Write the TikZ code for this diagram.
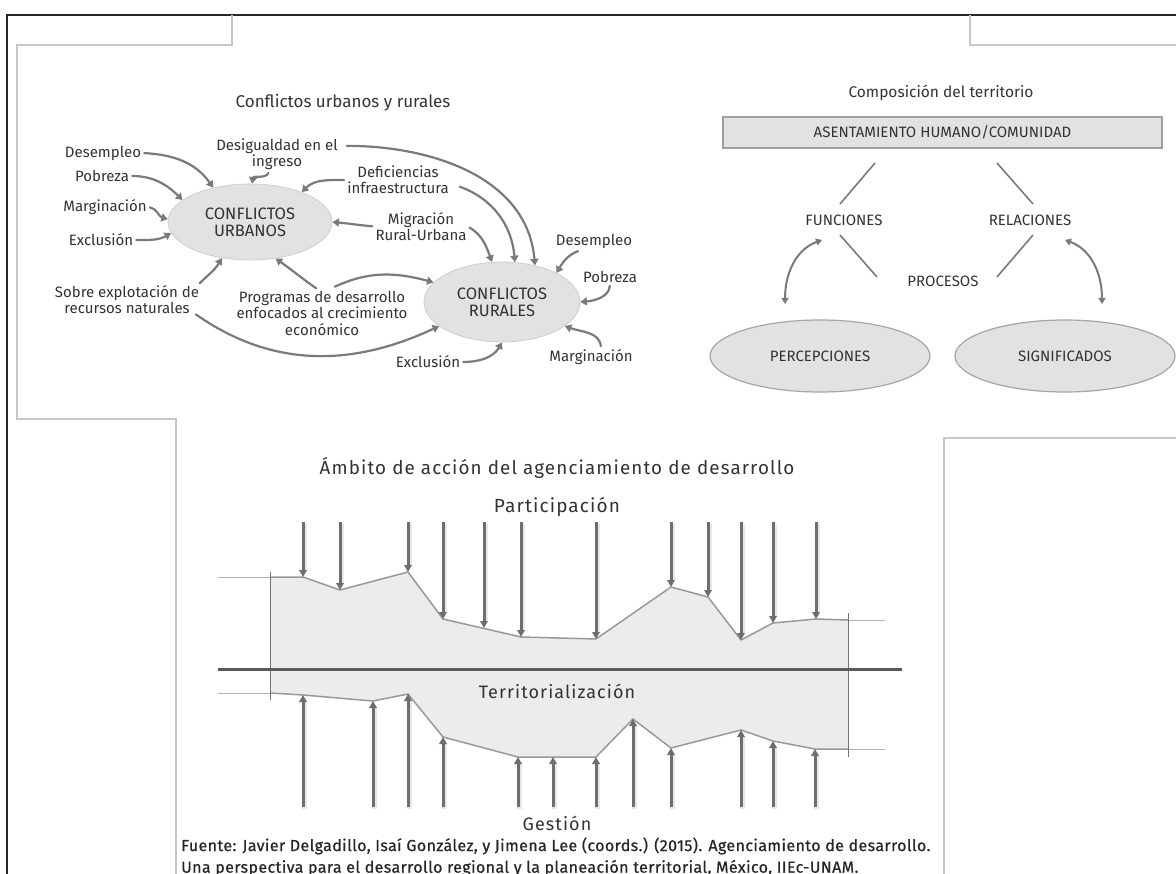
\documentclass[tikz,border=0pt]{standalone}
\usepackage{fontspec}
\setmainfont{Fira Sans}
\newfontfamily\widefont[LetterSpace=6]{Fira Sans}
\newfontfamily\footfont[LetterSpace=2.5,FakeBold=0.6]{Fira Sans}
\usetikzlibrary{arrows.meta,shapes.geometric,calc}
\definecolor{txt}{HTML}{333333}
\definecolor{arr}{HTML}{7A7A7A}
\definecolor{ellfill}{HTML}{E2E2E2}
\definecolor{brd}{HTML}{C8C8C8}
\definecolor{shapefill}{HTML}{ECECEC}
\begin{document}
\begin{tikzpicture}[x=1pt,y=1pt,
  lbl/.style={font=\fontsize{15}{16}\selectfont, text=txt, align=center, inner sep=1pt},
  ttl/.style={font=\fontsize{17}{19}\selectfont, text=txt, inner sep=0pt},
  capl/.style={font=\fontsize{15}{17}\selectfont, text=txt, inner sep=1pt},
  conf/.style={ellipse, fill=ellfill, draw=ellfill!80!gray, line width=0.8pt, inner sep=0pt, align=center,
     font=\fontsize{16.5}{17}\selectfont, text=txt},
  bigell/.style={ellipse, fill=ellfill, draw=gray!70, line width=1.2pt, minimum width=220pt, minimum height=72pt,
     inner sep=0pt, font=\fontsize{15}{17}\selectfont, text=txt},
  carr/.style={draw=arr, line width=2.2pt, line cap=round, -{Triangle[length=6.5pt,width=8pt]}, shorten <=2pt},
  darr/.style={draw=arr, line width=2pt, {Triangle[length=6pt,width=7pt]}-{Triangle[length=6pt,width=7pt]}},
  ln/.style={draw=arr, line width=1.6pt},
  barr/.style={draw=arr!90!black, line width=3pt, -{Triangle[length=7pt,width=7.5pt]}},
  bshadow/.style={draw=black!9, line width=5pt},
  bigtxt/.style={font=\widefont\fontsize{18}{20}\selectfont, text=txt, inner sep=0pt},
  frame/.style={draw=brd, line width=1.3pt},
]
\useasboundingbox (0,0) rectangle (1176,-874);
\fill[white] (0,0) rectangle (1176,-874);

% ---------- page frame ----------
\draw[draw=black!85, line width=2pt] (1176,-15) -- (7,-15) -- (7,-874);
\draw[frame] (232,-15) -- (232,-45) -- (17,-45) -- (17,-419) -- (176,-419) -- (176,-874);
\draw[frame] (970,-15) -- (970,-45) -- (1176,-45);
\draw[frame] (1176,-438) -- (944,-438) -- (944,-874);

% ---------- Conflictos urbanos y rurales ----------
\node[ttl] (t1) at (343,-103) {Conflictos urbanos y rurales};
\node[conf, minimum width=164pt, minimum height=76pt] (urb) at (250,-222) {CONFLICTOS\\URBANOS};
\node[conf, minimum width=156pt, minimum height=80pt] (rur) at (502,-302) {CONFLICTOS\\RURALES};

\node[lbl] (desU) at (103,-153) {Desempleo};
\node[lbl] (pobU) at (102,-176) {Pobreza};
\node[lbl] (marU) at (105,-207) {Marginación};
\node[lbl] (excU) at (101,-240) {Exclusión};
\node[lbl] (sobre) at (127,-300) {Sobre explotación de\\recursos naturales};
\node[lbl] (desig) at (277,-154.5) {Desigualdad en el\\ingreso};
\node[lbl] (defic) at (398,-180) {Deficiencias\\infraestructura};
\node[lbl] (migr) at (421,-226.5) {Migración\\Rural-Urbana};
\node[lbl, font=\fontsize{15}{16.5}\selectfont] (prog) at (322,-313) {Programas de desarrollo\\enfocados al crecimiento\\económico};
\node[lbl] (desR) at (594,-241) {Desempleo};
\node[lbl] (pobR) at (610,-277) {Pobreza};
\node[lbl] (marR) at (591,-357) {Marginación};
\node[lbl] (excR) at (428,-362) {Exclusión};

% arrows to urban
\draw[carr] (desU.east) to[out=-3,in=125] (urb.137);
\draw[carr] (pobU.east) to[out=0,in=135] (urb.162);
\draw[carr] (marU.east) to[out=-10,in=165] (urb.178);
\draw[carr] (excU.east) to[out=0,in=-150] (urb.188);
\draw[carr] ($(desig.south)+(-8,0)$) to[out=-110,in=80] (urb.87);
\draw[carr] (defic.west) to[out=180,in=45] (urb.30);
\draw[carr] (migr.west) to[out=175,in=-5] (urb.0);
\draw[carr] ($(sobre.north east)+(-2,0)$) to[out=45,in=-120] (urb.232);
\draw[carr] ($(prog.north)+(-4,0)$) to[out=145,in=-35] (urb.305);
% arrows to rural
\draw[carr] ($(desig.north east)+(6,-8)$) to[out=0,in=95] (rur.48);
\draw[carr] ($(defic.east)+(8,-6)$) to[out=-20,in=95] (rur.72);
\draw[carr] (migr.east) to[out=-30,in=110] (rur.104);
\draw[carr] ($(prog.north)+(11,2)$) to[out=25,in=165] (rur.164);
\draw[carr] ($(sobre.south east)+(-6,2)$) to[out=-35,in=-155] (rur.201);
\draw[carr] (excR.east) to[out=0,in=-120] (rur.270);
\draw[carr] ($(desR.south)+(-14,-1)$) to[out=200,in=60] (rur.28);
\draw[carr] (pobR.south) to[out=-95,in=5] (rur.0);
\draw[carr] ($(marR.north)+(10,0)$) to[out=95,in=-20] (rur.339);

% ---------- Composición del territorio ----------
\node[capl, font=\fontsize{15.5}{17}\selectfont] (t2) at (941,-93) {Composición del territorio};
\node[draw=gray!75, line width=1.3pt, fill=ellfill, minimum width=439pt, minimum height=31pt, inner sep=0pt,
      capl] (asent) at (942.5,-132.5) {ASENTAMIENTO HUMANO/COMUNIDAD};
\node[capl] (func) at (844,-220) {FUNCIONES};
\node[capl] (rel) at (1030,-220) {RELACIONES};
\node[capl] (proc) at (943,-281) {PROCESOS};
\node[bigell] (perc) at (820,-356) {PERCEPCIONES};
\node[bigell] (sig) at (1065,-356) {SIGNIFICADOS};

\coordinate (a1) at (875,-163); \coordinate (f1) at (840,-204);
\coordinate (a2) at (997,-163); \coordinate (r1) at (1033,-204);
\coordinate (f2) at (840,-235); \coordinate (p1) at (877,-277);
\coordinate (r2) at (1033,-235); \coordinate (p2) at (997,-277);
\draw[ln] (a1) -- (f1);
\draw[ln] (a2) -- (r1);
\draw[ln] (f2) -- (p1);
\draw[ln] (r2) -- (p2);
\coordinate (fa) at (822,-240); \coordinate (pa) at (785,-304);
\coordinate (ra) at (1065,-240); \coordinate (sa) at (1102,-304);
\draw[darr] (fa) to[out=-160,in=90] (pa);
\draw[darr] (ra) to[out=-20,in=90] (sa);

% ---------- Ámbito de acción ----------
\node[bigtxt, font=\widefont\fontsize{18.8}{20}\selectfont] (t3) at (557,-468) {Ámbito de acción del agenciamiento de desarrollo};
\node[bigtxt, font=\widefont\fontsize{19}{20}\selectfont] (part) at (557,-507) {Participación};

\fill[shapefill] (270,-577) -- (303,-577) -- (340,-590) -- (408,-572) -- (443,-619) -- (521,-637) -- (596,-639)
  -- (671,-587) -- (708,-597) -- (741,-640) -- (773,-623) -- (816,-619) -- (848,-620)
  -- (848,-749) -- (815,-749) -- (773,-741) -- (741,-730) -- (671,-748) -- (633,-719) -- (596,-757)
  -- (518,-757) -- (443,-737) -- (408,-694) -- (373,-701) -- (303,-695) -- (270,-693) -- cycle;
\draw[draw=gray!80, line width=1.5pt, line join=round] (270,-577) -- (303,-577) -- (340,-590) -- (408,-572) -- (443,-619) -- (521,-637) -- (596,-639)
  -- (671,-587) -- (708,-597) -- (741,-640) -- (773,-623) -- (816,-619) -- (848,-620);
\draw[draw=gray!80, line width=1.5pt, line join=round] (270,-693) -- (303,-695) -- (373,-701) -- (408,-694) -- (443,-737) -- (518,-757) -- (596,-757)
  -- (633,-719) -- (671,-748) -- (741,-730) -- (773,-741) -- (815,-749) -- (848,-749);
\draw[draw=gray!60, line width=1pt] (218,-577) -- (270,-577);
\draw[draw=gray!60, line width=1pt] (218,-693) -- (270,-693);
\draw[draw=gray!60, line width=1pt] (848,-620) -- (885,-620);
\draw[draw=gray!60, line width=1pt] (848,-749) -- (885,-749);
\draw[draw=gray!90!black, line width=1pt] (270,-572) -- (270,-700);
\draw[draw=gray!90!black, line width=1pt] (848,-613) -- (848,-757);
\draw[draw=black!65, line width=3pt] (218,-669) -- (902,-669);

\foreach \x/\y [count=\i] in {303/577, 340/590, 408/572, 443/619, 484/628, 521/637, 596/639, 671/587, 708/597, 741/640, 773/623, 816/619} {
  \coordinate (ts\i) at (\x,-522);
  \coordinate (tp\i) at (\x,-\y);
  \draw[bshadow] ($(ts\i)+(1.5,-2)$) -- ($(tp\i)+(1.5,6)$);
  \draw[barr] (ts\i) -- (tp\i);
}
\foreach \x/\y [count=\i] in {303/695, 373/701, 408/694, 443/737, 518/757, 553/757, 596/757, 633/719, 671/748, 741/730, 773/741, 815/749} {
  \coordinate (bs\i) at (\x,-807);
  \coordinate (bp\i) at (\x,-\y);
  \draw[bshadow] ($(bs\i)+(1.5,-2)$) -- ($(bp\i)+(1.5,-6)$);
  \draw[barr] (bs\i) -- (bp\i);
}
\node[bigtxt] (terr) at (557,-691) {Territorialización};
\node[bigtxt] (gest) at (557,-823) {Gestión};

\node[anchor=west, inner sep=0pt, font=\footfont\fontsize{16}{20}\selectfont, text=black!85] (foot1) at (181,-846)
  {Fuente: Javier Delgadillo, Isaí González, y Jimena Lee (coords.) (2015). Agenciamiento de desarrollo.};
\node[anchor=west, inner sep=0pt, font=\footfont\fontsize{16}{20}\selectfont, text=black!85] (foot2) at (181,-868)
  {Una perspectiva para el desarrollo regional y la planeación territorial, México, IIEc-UNAM.};
\end{tikzpicture}
\end{document}
